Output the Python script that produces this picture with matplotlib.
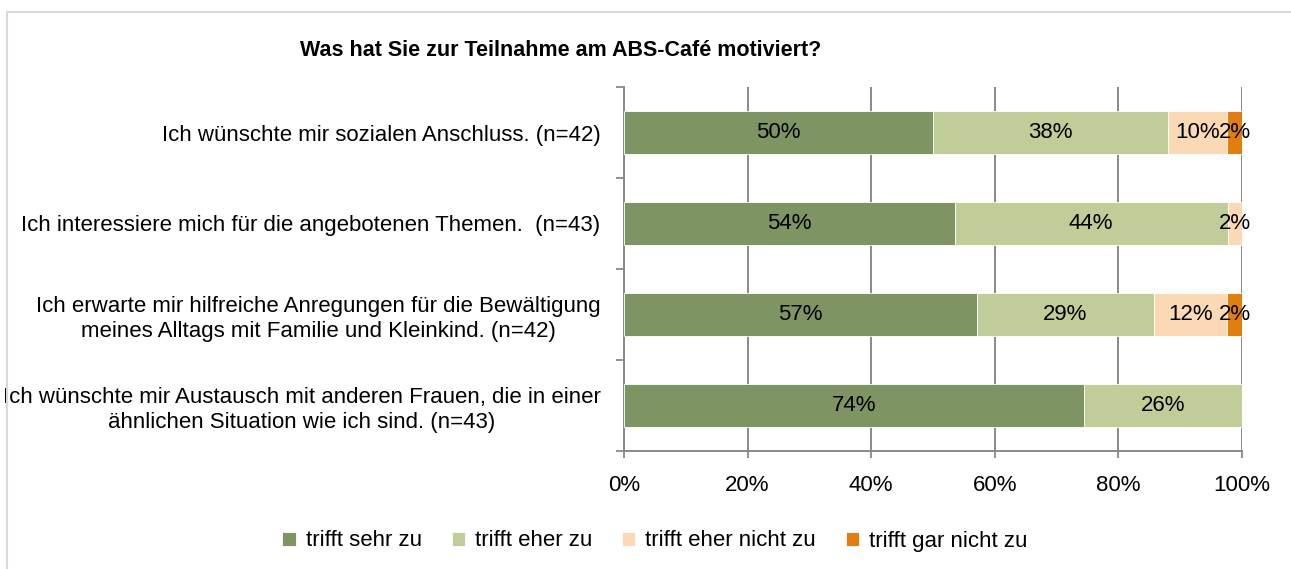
import matplotlib
matplotlib.use("Agg")
import matplotlib.pyplot as plt
import numpy as np
from matplotlib.patches import Rectangle
from matplotlib.ticker import FixedLocator, PercentFormatter

plt.rcParams['font.family'] = ['Liberation Sans', 'DejaVu Sans']

title = "Was hat Sie zur Teilnahme am ABS-Café motiviert?"
categories = [
    "Ich wünschte mir sozialen Anschluss. (n=42)",
    "Ich interessiere mich für die angebotenen Themen.  (n=43)",
    "Ich erwarte mir hilfreiche Anregungen für die Bewältigung\nmeines Alltags mit Familie und Kleinkind. (n=42)",
    "Ich wünschte mir Austausch mit anderen Frauen, die in einer\nähnlichen Situation wie ich sind. (n=43)",
]
series = ["trifft sehr zu", "trifft eher zu", "trifft eher nicht zu", "trifft gar nicht zu"]
# shares in percent
sehr = [50.0, 53.5, 57.1, 74.4]
eher = [38.1, 44.2, 28.6, 25.6]
eher_nicht = [9.5, 2.3, 11.9, 0.0]
gar_nicht = [2.4, 0.0, 2.4, 0.0]
colors = ["#7E9463", "#C1CD98", "#FCD9B5", "#E07F10"]

W, H = 1291, 569
fig = plt.figure(figsize=(W / 100, H / 100), dpi=100)
ax = fig.add_axes([624 / W, 1 - 451 / H, (1242 - 624) / W, (451 - 87) / H])

y = np.arange(len(categories))
left = np.zeros(len(categories))
grey = "#898989"
fs = 16

for vals, name, col in zip([sehr, eher, eher_nicht, gar_nicht], series, colors):
    vals = np.array(vals)
    ax.barh(y, vals, left=left, height=0.47, color=col, edgecolor="white",
            linewidth=0.6, label=name, zorder=3)
    for yi, v, l in zip(y, vals, left):
        if v > 0:
            ax.text(l + v / 2, yi, f"{v:.0f}%", ha="center", va="center",
                    fontsize=fs, color="black", zorder=4)
    left += vals

ax.set_xlim(0, 100)
ax.set_ylim(len(categories) - 0.5, -0.5)
ax.set_xticks(np.arange(0, 101, 20))
ax.xaxis.set_major_formatter(PercentFormatter(decimals=0))
ax.grid(axis="x", color=grey, linewidth=1.4, zorder=0)
ax.set_axisbelow(True)

# category labels: lines centred, block right-aligned next to the axis
ax.set_yticks(y)
ax.set_yticklabels(categories, fontsize=fs, ha="right", multialignment="center",
                   linespacing=1.25)
ax.yaxis.set_minor_locator(FixedLocator(np.arange(-0.5, len(categories), 1.0)))
ax.tick_params(axis="y", which="major", length=0, pad=17)
ax.tick_params(axis="y", which="minor", length=6, width=1.3, color=grey)
ax.tick_params(axis="x", length=5, width=1.3, color=grey, labelsize=fs, pad=12)

for s in ["top", "right"]:
    ax.spines[s].set_visible(False)
for s in ["left", "bottom"]:
    ax.spines[s].set_color(grey)
    ax.spines[s].set_linewidth(1.4)

fig.text(561 / W, 1 - 51 / H, title, ha="center", va="center",
         fontsize=15.5, fontweight="bold")

fig.legend(loc="center", bbox_to_anchor=(655 / W, 1 - 541 / H), ncol=4,
           frameon=False, fontsize=fs, handlelength=0.6, handleheight=0.6,
           handletextpad=0.45, columnspacing=1.35)

fig.patches.append(Rectangle((7 / W, -0.1), 1.2, 1 - 12 / H + 0.1, transform=fig.transFigure,
                             fill=False, edgecolor="#D9D9D9", linewidth=1.5))

fig.savefig("out.png", dpi=100)
